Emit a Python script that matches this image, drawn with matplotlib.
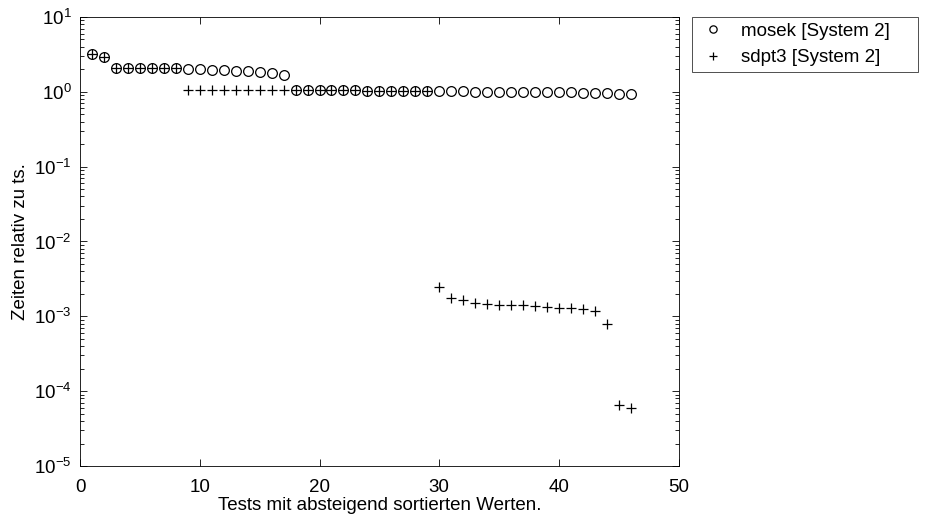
import matplotlib
matplotlib.use("Agg")
import matplotlib.pyplot as plt
import numpy as np
from matplotlib.ticker import LogLocator, NullFormatter

plt.rcParams['font.family'] = ['Liberation Sans', 'DejaVu Sans']
plt.rcParams['mathtext.fontset'] = 'custom'
plt.rcParams['mathtext.rm'] = 'Liberation Sans'

mosek_x = list(range(1, 47))
mosek_y = [3.2, 2.9, 2.07, 2.07, 2.07, 2.07, 2.07, 2.07,
           2.0, 2.0, 1.98, 1.95, 1.92, 1.9, 1.85, 1.8, 1.68,
           1.06, 1.06, 1.06, 1.05, 1.05, 1.05, 1.04, 1.04, 1.03, 1.03, 1.02, 1.02,
           1.01, 1.01, 1.01, 1.0, 1.0, 1.0, 1.0, 1.0, 0.99, 0.99, 0.98, 0.98,
           0.97, 0.96, 0.95, 0.94, 0.92]

sdpt3_x = list(range(1, 47))
sdpt3_y = [3.2, 2.9, 2.07, 2.07, 2.07, 2.07, 2.07, 2.07,
           1.05, 1.05, 1.05, 1.05, 1.05, 1.05, 1.05, 1.05, 1.05,
           1.06, 1.06, 1.06, 1.05, 1.05, 1.05, 1.04, 1.04, 1.03, 1.03, 1.02, 1.02,
           2.5e-3, 1.74e-3, 1.65e-3, 1.5e-3, 1.46e-3, 1.43e-3, 1.43e-3, 1.41e-3,
           1.38e-3, 1.35e-3, 1.31e-3, 1.28e-3, 1.26e-3, 1.18e-3, 8.0e-4,
           6.6e-5, 6.0e-5]

labels = ['mosek [System 2]', 'sdpt3 [System 2]']
xlabel = 'Tests mit absteigend sortierten Werten.'
ylabel = 'Zeiten relativ zu ts.'

fig = plt.figure(figsize=(9.31, 5.29), dpi=100)
ax = fig.add_axes([0.086, 0.119, 0.643, 0.849])

ax.semilogy(mosek_x, mosek_y, linestyle='none', marker='o', markersize=7,
            markerfacecolor='none', markeredgecolor='black', markeredgewidth=0.9,
            label=labels[0])
ax.semilogy(sdpt3_x, sdpt3_y, linestyle='none', marker='+', markersize=7.5,
            markeredgecolor='black', markeredgewidth=0.9, label=labels[1])

ax.set_xlim(0, 50)
ax.set_ylim(1e-5, 1e1)
ax.set_xticks([0, 10, 20, 30, 40, 50])
ax.yaxis.set_major_locator(LogLocator(base=10, numticks=10))
ax.yaxis.set_minor_locator(LogLocator(base=10, subs=np.arange(2, 10), numticks=20))
ax.yaxis.set_minor_formatter(NullFormatter())
ax.tick_params(which='both', direction='in', top=True, right=True,
               labelsize=13.5, width=0.6)
ax.tick_params(axis='y', pad=6)
ax.tick_params(axis='x', pad=9)
ax.tick_params(which='major', length=5)
ax.tick_params(which='minor', length=3)
for s in ax.spines.values():
    s.set_linewidth(0.6)
ax.xaxis.offsetText.set_visible(False)
ax.yaxis.offsetText.set_visible(False)

ax.set_xlabel(xlabel, fontsize=13.5, labelpad=1)
ax.set_ylabel(ylabel, fontsize=13.5, labelpad=4)

leg = ax.legend(loc='upper left', bbox_to_anchor=(1.023, 0.5, 0.376, 0.5),
                mode='expand', fontsize=13.5,
                frameon=True, fancybox=False, edgecolor='black',
                handlelength=1.6, handletextpad=0.7, borderpad=0.3,
                labelspacing=0.5, borderaxespad=0, markerscale=0.75)
leg.get_frame().set_linewidth(0.6)

fig.savefig('out.png', dpi=100)
